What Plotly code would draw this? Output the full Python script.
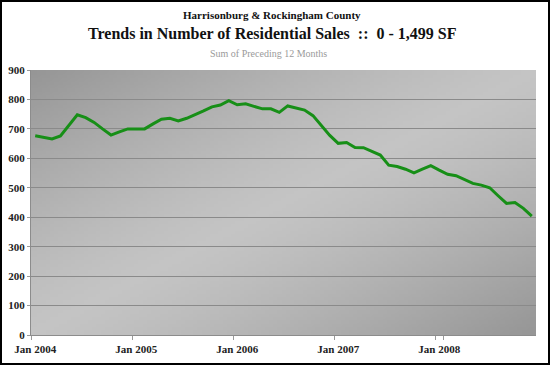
import base64, struct, zlib
import plotly.graph_objects as go

# ---------------- data ----------------
years = [2004, 2005, 2006, 2007, 2008]
month_names = ["Jan", "Feb", "Mar", "Apr", "May", "Jun",
               "Jul", "Aug", "Sep", "Oct", "Nov", "Dec"]
months = [f"{m} {y}" for y in years for m in month_names]

sales_2004 = [677, 671, 666, 676, 712, 748, 738, 722, 700, 679, 690, 700]
sales_2005 = [700, 700, 717, 733, 736, 727, 736, 748, 761, 775, 781, 796]
sales_2006 = [782, 785, 776, 768, 768, 756, 778, 772, 764, 745, 712, 678]
sales_2007 = [651, 654, 637, 636, 624, 611, 577, 572, 563, 551, 563, 575]
sales_2008 = [560, 546, 541, 528, 515, 509, 500, 473, 447, 450, 430, 404]
sales = sales_2004 + sales_2005 + sales_2006 + sales_2007 + sales_2008

y_ticks = [0, 100, 200, 300, 400, 500, 600, 700, 800, 900]


# ---------------- background gradient (diagonal) ----------------
def png_uri(w, h, fn):
    rows = []
    for j in range(h):
        row = bytearray([0])
        for i in range(w):
            row.extend(fn(i / (w - 1), j / (h - 1)))
        rows.append(bytes(row))
    raw = b"".join(rows)

    def chunk(tag, data):
        c = struct.pack(">I", len(data)) + tag + data
        return c + struct.pack(">I", zlib.crc32(tag + data) & 0xFFFFFFFF)

    png = b"\x89PNG\r\n\x1a\n"
    png += chunk(b"IHDR", struct.pack(">IIBBBBB", w, h, 8, 2, 0, 0, 0))
    png += chunk(b"IDAT", zlib.compress(raw, 9))
    png += chunk(b"IEND", b"")
    return "data:image/png;base64," + base64.b64encode(png).decode()


def grad(u, v):
    t = (u + v) / 2.0          # 0 top-left -> 1 bottom-right
    d = abs(t - 0.5) * 2.0     # 0 at diagonal, 1 at corners
    dark, light = 150, 196
    c = int(round(light + (dark - light) * d ** 1.3))
    return (c, c, c)


bg_uri = png_uri(120, 80, grad)

# ---------------- figure ----------------
serif = "Liberation Serif, Times New Roman, serif"
L, R, T, B = 31, 14, 70, 30
W, H = 550, 365
pw, ph = W - L - R, H - T - B

fig = go.Figure()
fig.add_trace(go.Scatter(
    x=months, y=sales, mode="lines",
    line=dict(color="#178f17", width=3),
    hoverinfo="x+y", showlegend=False,
))

fig.update_layout(
    width=W, height=H,
    margin=dict(l=L, r=R, t=T, b=B, autoexpand=False),
    paper_bgcolor="white",
    plot_bgcolor="rgba(0,0,0,0)",
    font=dict(family=serif, color="#222222"),
    xaxis=dict(
        type="category", categoryorder="array", categoryarray=months,
        tickmode="array", tickvals=months[::12], ticktext=months[::12],
        tickson="boundaries", ticks="outside", ticklen=4, tickcolor="#999999",
        tickangle=0, automargin=False, ticklabelstandoff=4,
        showgrid=False, showline=True, linecolor="#8c8c8c", linewidth=1,
        tickfont=dict(family=serif, size=11, color="#222222", weight="bold"),
        range=[-0.5, 59.5], zeroline=False,
    ),
    yaxis=dict(
        range=[0, 900], tickvals=y_ticks, automargin=False,
        showgrid=True, gridcolor="#8a8a8a", gridwidth=1,
        showline=True, linecolor="#8c8c8c", linewidth=1,
        ticks="outside", ticklen=3, tickcolor="#999999",
        tickfont=dict(family=serif, size=11, color="#222222", weight="bold"),
        zeroline=False,
    ),
    images=[dict(
        source=bg_uri, xref="paper", yref="paper", x=0, y=1,
        sizex=1, sizey=1, sizing="stretch", layer="below",
        xanchor="left", yanchor="top",
    )],
)

def px_x(p):
    return (p - L) / pw

def px_y(p):
    return (H - B - p) / ph

fig.add_annotation(text="Harrisonburg & Rockingham County",
                   xref="paper", yref="paper", x=px_x(272), y=px_y(15),
                   showarrow=False, xanchor="center", yanchor="middle",
                   font=dict(family=serif, size=11, color="#111111", weight="bold"))
fig.add_annotation(text="Trends in Number of Residential Sales&nbsp;&nbsp;::&nbsp;&nbsp;0 - 1,499 SF",
                   xref="paper", yref="paper", x=px_x(272), y=px_y(33),
                   showarrow=False, xanchor="center", yanchor="middle",
                   font=dict(family=serif, size=16, color="#111111", weight="bold"))
fig.add_annotation(text="Sum of Preceding 12 Months",
                   xref="paper", yref="paper", x=px_x(268), y=px_y(53),
                   showarrow=False, xanchor="center", yanchor="middle",
                   font=dict(family=serif, size=10, color="#9a9a9a"))

# outer black frame of the picture
fig.add_shape(type="rect", xref="paper", yref="paper",
              x0=px_x(1), x1=px_x(W - 1), y0=px_y(H - 1), y1=px_y(1),
              line=dict(color="black", width=2), fillcolor="rgba(0,0,0,0)",
              layer="above")

fig.write_html(
    "out.html",
    config={"displayModeBar": False},
    post_script="document.body.style.margin='0';document.body.style.padding='0';"
                "document.documentElement.style.overflow='hidden';",
)
